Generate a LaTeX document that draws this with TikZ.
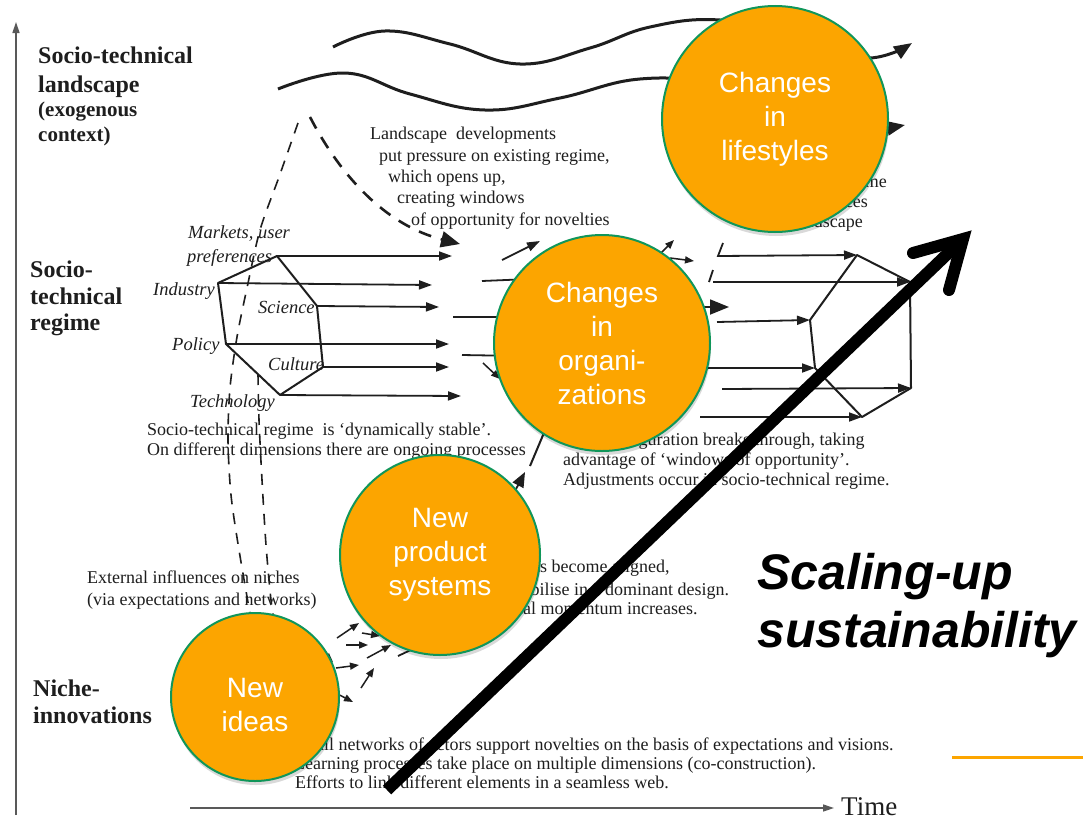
\documentclass[tikz,border=0pt]{standalone}
\usepackage{fontspec}
\setmainfont{Liberation Serif}
\newfontfamily\sansf{Liberation Sans}
\usetikzlibrary{arrows.meta}
\definecolor{circorange}{RGB}{252,165,0}
\definecolor{circgreen}{RGB}{16,150,90}
\definecolor{ink}{RGB}{30,30,30}
\begin{document}
\begin{tikzpicture}[x=1pt,y=-1pt,
  txt/.style={anchor=base west, inner sep=0, font=\fontsize{18}{21}\selectfont, text=ink},
  itl/.style={anchor=base west, inner sep=0, font=\fontsize{18.5}{21}\selectfont\itshape, text=ink},
  lvl/.style={anchor=base west, inner sep=0, font=\fontsize{24}{28}\selectfont\bfseries, text=ink},
  lvlsmall/.style={anchor=base west, inner sep=0, font=\fontsize{21}{25}\selectfont\bfseries, text=ink},
  axisline/.style={draw=black!65, line width=1.4pt, -{Triangle[length=11pt,width=7pt]}},
  harrow/.style={draw=ink, line width=1.8pt, -{Triangle[length=13pt,width=9pt]}},
  sarrow/.style={draw=ink, line width=1.5pt, -{Triangle[length=9pt,width=7pt]}},
  bigtip/.style={draw=ink, line width=1.8pt, -{Triangle[length=19pt,width=15pt]}},
  lineplain/.style={draw=ink, line width=1.8pt},
  hexline/.style={draw=ink, line width=2pt, line join=round},
  landwave/.style={draw=ink, line width=3pt, -{Triangle[length=18pt,width=14pt]}},
  dshthin/.style={draw=ink, line width=1.6pt, dash pattern=on 11pt off 9pt},
  dshthick/.style={draw=ink, line width=2.6pt, dash pattern=on 13pt off 10pt, -{Triangle[length=19pt,width=16pt]}},
  bubble/.style={circle, fill=circorange, draw=circgreen, line width=2pt, inner sep=0, text=white, font=\sansf\fontsize{28}{34}\selectfont, align=center},
  bshadow/.style={circle, fill=black, opacity=0.15, inner sep=0, draw=none},
  scaletxt/.style={anchor=base west, inner sep=0, font=\sansf\fontsize{50}{60}\selectfont\bfseries\itshape, text=black},
]
\useasboundingbox (0,0) rectangle (1083,819);
\fill[white] (0,0) rectangle (1083,819);

% ---------- axes ----------
\coordinate (yb) at (16,815); \coordinate (yt) at (16,22);
\draw[axisline] (yb) -- (yt);
\coordinate (xl) at (190,808); \coordinate (xr) at (834,808);
\draw[axisline] (xl) -- (xr);
\node[anchor=base west, inner sep=0, font=\fontsize{27}{30}\selectfont, text=ink] (time) at (841,815) {Time};

% ---------- level labels ----------
\node[lvl] (l1) at (38,63) {Socio-technical};
\node[lvl] (l2) at (38,92) {landscape};
\node[lvlsmall] (l3) at (38,116) {(exogenous};
\node[lvlsmall] (l4) at (38,141) {context)};
\node[lvl] (r1) at (30,277) {Socio-};
\node[lvl] (r2) at (30,304) {technical};
\node[lvl] (r3) at (30,330) {regime};
\node[lvl] (n1) at (33,696) {Niche-};
\node[lvl] (n2) at (33,723) {innovations};

% ---------- landscape waves ----------
\draw[landwave] plot[smooth, tension=0.7] coordinates {(333,47) (385,31) (450,44) (520,64) (590,48) (650,27) (720,20) (800,36) (865,58) (912,43)};
\draw[landwave] plot[smooth, tension=0.7] coordinates {(278,89) (345,73) (410,94) (485,110) (560,98) (640,79) (720,85) (820,112) (875,125) (905,125)};

% ---------- landscape text ----------
\node[txt] (t1) at (370,139) {Landscape\ \ developments};
\node[txt] (t2) at (379,161) {put pressure on existing regime,};
\node[txt] (t3) at (388,182) {which opens up,};
\node[txt] (t4) at (397,203) {creating windows};
\node[txt] (t5) at (411,225) {of opportunity for novelties};

\node[txt, anchor=base east] (nr1) at (887,187) {New regime};
\node[txt, anchor=base east] (nr2) at (868,207) {influences};
\node[txt, anchor=base east] (nr3) at (863,227) {landscape};

% ---------- dashed influences ----------
\coordinate (dsA) at (310,117); \coordinate (dsAe) at (460,244);
\draw[dshthick] (dsA) .. controls (340,175) and (385,225) .. (dsAe);
\draw[dshthin] plot[smooth] coordinates {(298,123) (279,177) (260,230) (247,288) (237,337) (230,388) (228,440) (231,495) (239,550) (252,625)};
\draw[dshthin] plot[smooth] coordinates {(258,374) (259,420) (262,480) (266,545) (271,600) (275,625)};

% ---------- left regime hexagon ----------
\coordinate (hA) at (277,256); \coordinate (hB) at (317,306); \coordinate (hC) at (323,367);
\coordinate (hD) at (280,395); \coordinate (hE) at (226,344); \coordinate (hF) at (218,283);
\draw[hexline] (hA)--(hB)--(hC)--(hD)--(hE)--(hF)--cycle;
\coordinate (eA) at (452,256); \coordinate (eF) at (432,285); \coordinate (eB) at (439,307);
\coordinate (eE) at (449,344); \coordinate (eC) at (449,367); \coordinate (eD) at (461,396);
\draw[harrow] (hA) -- (eA);
\draw[harrow] (hF) -- (eF);
\draw[harrow] (hB) -- (eB);
\draw[harrow] (hE) -- (eE);
\draw[harrow] (hC) -- (eC);
\draw[harrow] (hD) -- (eD);

\node[itl] (m1) at (188,238) {Markets, user};
\node[itl] (m2) at (187,262) {preferences};
\node[itl] (m3) at (153,295) {Industry};
\node[itl] (m4) at (258,313) {Science};
\node[itl] (m5) at (172,350) {Policy};
\node[itl] (m6) at (268,370) {Culture};
\node[itl] (m7) at (190,407) {Technology};

\node[txt] (s1) at (147,435) {Socio-technical regime\ \ is ‘dynamically stable’.};
\node[txt] (s2) at (147,455) {On different dimensions there are ongoing processes};

% ---------- middle arrows ----------
\coordinate (p1a) at (502,260); \coordinate (p1b) at (540,241);
\draw[harrow] (p1a) -- (p1b);
\coordinate (p2a) at (482,281); \coordinate (p2b) at (530,279);
\draw[lineplain] (p2a) -- (p2b);
\coordinate (p3a) at (453,317); \coordinate (p3b) at (520,317);
\draw[lineplain] (p3a) -- (p3b);
\coordinate (p4a) at (462,355); \coordinate (p4b) at (520,356);
\draw[lineplain] (p4a) -- (p4b);
\coordinate (p5a) at (483,363); \coordinate (p5b) at (500,379);
\draw[sarrow] (p5a) -- (p5b);

\coordinate (q1a) at (658,256); \coordinate (q1b) at (674,240);
\draw[sarrow] (q1a) -- (q1b);
\coordinate (q2a) at (670,258); \coordinate (q2b) at (694,261);
\draw[sarrow] (q2a) -- (q2b);
\coordinate (q3a) at (690,307); \coordinate (q3b) at (729,307);
\draw[bigtip] (q3a) -- (q3b);

% ---------- right regime hexagon ----------
\coordinate (kA) at (857,255); \coordinate (kB) at (910,282); \coordinate (kC) at (911,388);
\coordinate (kD) at (862,417); \coordinate (kE) at (815,368); \coordinate (kF) at (810,320);
\draw[hexline] (kA)--(kB)--(kC)--(kD)--(kE)--(kF)--cycle;
\coordinate (g1) at (723,243); \coordinate (g1b) at (718,256);
\draw[harrow] (g1) -- (g1b) -- (kA);
\coordinate (g2a) at (713,270); \coordinate (g2b) at (709,282);
\draw[lineplain] (g2a) -- (g2b);
\coordinate (g2) at (713,282);
\draw[harrow] (g2) -- (kB);
\coordinate (g3) at (717,322);
\draw[harrow] (g3) -- (kF);
\coordinate (g4) at (700,368);
\draw[harrow] (g4) -- (kE);
\coordinate (g5) at (722,389);
\draw[harrow] (g5) -- (kC);
\coordinate (g6) at (700,417);
\draw[harrow] (g6) -- (kD);

\node[txt] (b1) at (563,445) {New configuration breaks through, taking};
\node[txt] (b2) at (563,465) {advantage of ‘windows of opportunity’.};
\node[txt] (b3) at (563,485) {Adjustments occur in socio-technical regime.};

% ---------- niche arrows ----------
\coordinate (u1a) at (505,510); \coordinate (u1b) at (525,472);
\draw[bigtip, -{Triangle[length=15pt,width=12pt]}] (u1a) -- (u1b);
\coordinate (u2a) at (530,466); \coordinate (u2b) at (546,428);
\draw[lineplain, line width=2pt] (u2a) -- (u2b);

\coordinate (a1a) at (337,638); \coordinate (a1b) at (359,623);
\draw[sarrow] (a1a) -- (a1b);
\coordinate (a2a) at (346,645); \coordinate (a2b) at (368,645);
\draw[sarrow] (a2a) -- (a2b);
\coordinate (a3a) at (367,658); \coordinate (a3b) at (391,645);
\draw[sarrow] (a3a) -- (a3b);
\coordinate (a4a) at (336,668); \coordinate (a4b) at (359,665);
\draw[sarrow] (a4a) -- (a4b);
\coordinate (a5a) at (361,688); \coordinate (a5b) at (374,668);
\draw[sarrow] (a5a) -- (a5b);
\coordinate (a6a) at (362,633); \coordinate (a6b) at (380,636);
\draw[sarrow] (a6a) -- (a6b);
\coordinate (a7a) at (318,648); \coordinate (a7b) at (333,662);
\draw[sarrow] (a7a) -- (a7b);
\coordinate (a8a) at (330,690); \coordinate (a8b) at (353,702);
\draw[sarrow] (a8a) -- (a8b);
\coordinate (a9a) at (398,656); \coordinate (a9b) at (415,648);
\draw[lineplain] (a9a) -- (a9b);

\node[txt] (e1) at (87,583) {External influences on niches};
\node[txt] (e2) at (87,605) {(via expectations and networks)};

\node[txt] (c1) at (480,572) {Elements become aligned,};
\node[txt] (c2) at (480,595) {and stabilise in a dominant design.};
\node[txt] (c3) at (480,614) {Internal momentum increases.};

\node[txt] (f1) at (292,750) {Small networks of actors support novelties on the basis of expectations and visions.};
\node[txt] (f2) at (294,769) {Learning processes take place on multiple dimensions (co-construction).};
\node[txt] (f3) at (295,788) {Efforts to link different elements in a seamless web.};

% ---------- bubbles ----------
\node[bshadow, minimum size=226pt] at (776,123) {};
\node[bubble, minimum size=226pt] (life) at (775,119) {Changes\\in\\lifestyles};
\node[bshadow, minimum size=216pt] at (603,347) {};
\node[bubble, minimum size=216pt] (org) at (602,343) {Changes\\in\\organi-\\zations};
\node[bshadow, minimum size=200pt] at (441,559) {};
\node[bubble, minimum size=200pt] (prod) at (440,555) {New\\product\\systems};
\node[bshadow, minimum size=168pt] at (256,701) {};
\node[bubble, minimum size=168pt] (ideas) at (255,697) {};
\node[inner sep=0, text=white, font=\sansf\fontsize{28}{34}\selectfont, align=center] (ideastxt) at (255,705) {New\\ideas};

% ---------- big arrow ----------
\coordinate (bigs) at (387,790); \coordinate (bigt) at (963,239);
\coordinate (arm1) at (913,253); \coordinate (arm2) at (949,290);
\draw[black, line width=12pt] (bigs) -- (bigt);
\draw[black, line width=12pt, line join=miter, line cap=round] (arm1) -- (bigt) -- (arm2);

\node[scaletxt] (sc1) at (757,589) {Scaling-up};
\node[scaletxt] (sc2) at (757,647) {sustainability};

\coordinate (ol1) at (952,757); \coordinate (ol2) at (1083,757);
\draw[circorange, line width=3pt] (ol1) -- (ol2);
\end{tikzpicture}
\end{document}
